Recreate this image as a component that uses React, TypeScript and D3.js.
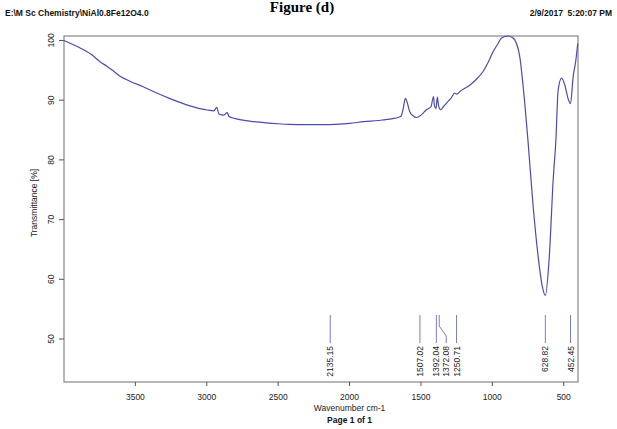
import React from "react";
import * as d3 from "d3";

// FT-IR spectrum: wavenumber (cm-1) and transmittance (%)
const wavenumbers = [
  4000, 3900, 3805, 3741, 3700, 3683, 3660, 3613, 3530, 3449, 3350, 3262, 3150, 3050, 3005,
  2950, 2930, 2915, 2880, 2857, 2845, 2800, 2700, 2584, 2500, 2421, 2300, 2200, 2100, 2000,
  1900, 1800, 1700, 1660, 1640, 1625, 1609, 1595, 1579, 1555, 1532, 1500, 1462, 1430, 1412,
  1405, 1395, 1385, 1376, 1362, 1340, 1310, 1290, 1264, 1250, 1220, 1158, 1100, 1065, 1030,
  995, 960, 936, 890, 860, 843, 808, 773, 749, 714, 679, 650, 628.82, 601, 574, 555, 539, 515,
  492, 470, 452.45, 434, 415, 402,
];
const transmittance = [
  100.0, 98.9, 97.6, 96.3, 95.7, 95.4, 95.0, 94.1, 93.1, 92.3, 91.2, 90.3, 89.3, 88.6, 88.4,
  88.2, 88.8, 87.7, 87.5, 87.9, 87.3, 86.9, 86.5, 86.2, 86.05, 85.95, 85.9, 85.9, 85.95, 86.1,
  86.4, 86.6, 86.9, 87.1, 87.3, 88.5, 90.3, 89.5, 88.1, 87.4, 87.1, 87.5, 88.4, 88.9, 90.6,
  89.0, 88.6, 90.5, 89.0, 88.4, 89.0, 89.8, 90.3, 91.2, 91.0, 91.6, 92.5, 93.8, 94.8, 96.3,
  98.1, 99.5, 100.4, 100.75, 100.5, 100.1, 97.3, 89.5, 82.8, 72.2, 63.8, 58.8, 57.3, 63.8, 76.6,
  83.3, 91.7, 93.7, 92.5, 90.3, 89.4, 93.9, 96.7, 99.5,
];

// Peak picks and the horizontal offset of each label from its peak (px)
const peakLabels = ["2135.15", "1507.02", "1392.04", "1372.08", "1250.71", "628.82", "452.45"];
const peakLabelShift = [0, 0, 0, 7, 0, 0, 0];

const xTicks = [3500, 3000, 2500, 2000, 1500, 1000, 500];
const yTicks = [50, 60, 70, 80, 90, 100];

const W = 617;
const H = 429;
const left = 64;
const right = 578;
const top = 36;
const bottom = 382;

export default function App() {
  const x = d3.scaleLinear().domain([4000, 400]).range([left, right]);
  const y = d3.scaleLinear().domain([42.8, 100.75]).range([bottom, top]);

  const pts: [number, number][] = wavenumbers.map((w, i) => [w, transmittance[i]]);
  const line = d3
    .line<[number, number]>()
    .x((d) => x(d[0]))
    .y((d) => y(d[1]))
    .curve(d3.curveMonotoneX);

  const sans = "'Liberation Sans', Arial, sans-serif";
  const lineTop = 315;
  const lineBottom = 343;

  return (
    <svg
      width={W}
      height={H}
      style={{ position: "absolute", left: 0, top: 0, background: "#fff" }}
      fontFamily={sans}
    >
      <rect x={0} y={0} width={W} height={H} fill="#fff" />
      {/* headers */}
      <text x={302} y={12} textAnchor="middle" fontFamily="'Liberation Serif', 'Times New Roman', serif" fontWeight="bold" fontSize={15}>
        Figure (d)
      </text>
      <text x={5} y={16} fontSize={8.5} fontWeight="bold" fill="#111">
        E:\M Sc Chemistry\NiAl0.8Fe12O4.0
      </text>
      <text x={612} y={16} fontSize={8.5} fontWeight="bold" fill="#111" textAnchor="end">
        {"2/9/2017\u00a0\u00a05:20:07 PM"}
      </text>

      {/* frame */}
      <rect x={left} y={top} width={right - left} height={bottom - top} fill="none" stroke="#6e6e6e" strokeWidth={1} />

      {/* y axis */}
      {yTicks.map((t) => (
        <g key={t}>
          <line x1={left - 5} x2={left} y1={y(t)} y2={y(t)} stroke="#555" />
          <text
            transform={`translate(${left - 10},${y(t)}) rotate(-90)`}
            textAnchor="middle"
            fontSize={8.5}
            fill="#222"
          >
            {t}
          </text>
        </g>
      ))}
      <text transform={`translate(37,203) rotate(-90)`} textAnchor="middle" fontSize={8.5} fill="#222">
        Transmittance [%]
      </text>

      {/* x axis */}
      {xTicks.map((t) => (
        <g key={t}>
          <line x1={x(t)} x2={x(t)} y1={bottom} y2={bottom + 4} stroke="#555" />
          <text x={x(t)} y={400} textAnchor="middle" fontSize={8.5} fill="#222">
            {t}
          </text>
        </g>
      ))}
      <text x={x(2000)} y={411} textAnchor="middle" fontSize={8.5} fill="#222">
        Wavenumber cm-1
      </text>
      <text x={x(2000)} y={423} textAnchor="middle" fontSize={8.5} fontWeight="bold" fill="#111">
        Page 1 of 1
      </text>

      {/* peak markers */}
      {peakLabels.map((lab, i) => {
        const px = x(parseFloat(lab));
        const lx = px + peakLabelShift[i];
        const d =
          peakLabelShift[i] === 0
            ? `M${px},${lineTop}V${lineBottom}`
            : `M${px},${lineTop}V${lineTop + 11}L${lx},${lineTop + 21}V${lineBottom}`;
        return (
          <g key={lab}>
            <path d={d} fill="none" stroke="#7b7bd0" strokeWidth={1} />
            <text
              transform={`translate(${lx + 3},${lineBottom + 3}) rotate(-90)`}
              textAnchor="end"
              fontSize={8.5}
              fill="#222"
            >
              {lab}
            </text>
          </g>
        );
      })}

      {/* spectrum */}
      <path d={line(pts) || ""} fill="none" stroke="#4b4bb0" strokeWidth={1.2} />
    </svg>
  );
}
